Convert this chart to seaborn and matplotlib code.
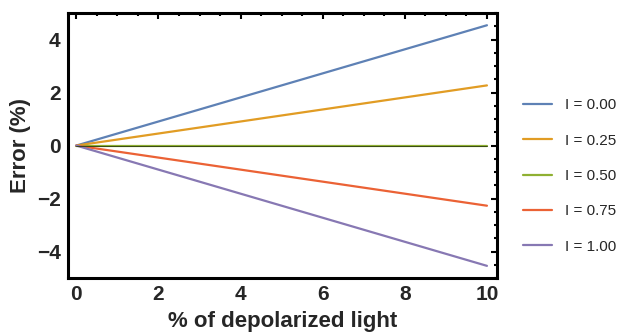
import matplotlib
matplotlib.use("Agg")
import matplotlib.pyplot as plt
from matplotlib.ticker import MultipleLocator
import pandas as pd
import seaborn as sns

depol = [0, 10]
err_000 = [0, 4.54]
err_025 = [0, 2.27]
err_050 = [0, 0.0]
err_075 = [0, -2.27]
err_100 = [0, -4.54]
labels = ['I = 0.00', 'I = 0.25', 'I = 0.50', 'I = 0.75', 'I = 1.00']
colors = ['#5E81B5', '#E19C24', '#8FB032', '#EB6235', '#8778B3']

rows = []
for lab, ys in zip(labels, [err_000, err_025, err_050, err_075, err_100]):
    for x, y in zip(depol, ys):
        rows.append({'depol': x, 'err': y, 'I': lab})
df = pd.DataFrame(rows)

sns.set_style('white')
plt.rcParams['font.family'] = ['Liberation Sans', 'DejaVu Sans']

fig, ax = plt.subplots(figsize=(6.21, 3.35), dpi=100)
fig.subplots_adjust(left=0.109, right=0.800, top=0.961, bottom=0.170)

sns.lineplot(data=df, x='depol', y='err', hue='I', palette=colors, lw=1.6, ax=ax)
# dark core on the zero line
sub = df[df['I'] == 'I = 0.50']
ax.plot(sub['depol'], sub['err'], color='#2b3a10', lw=0.6, zorder=3)

ax.set_xlim(-0.21, 10.24)
ax.set_ylim(-5, 5)
ax.xaxis.set_major_locator(MultipleLocator(2))
ax.xaxis.set_minor_locator(MultipleLocator(0.5))
ax.yaxis.set_major_locator(MultipleLocator(2))
ax.yaxis.set_minor_locator(MultipleLocator(0.5))
ax.set_yticks([-4, -2, 0, 2, 4])
ax.set_yticklabels(['\u22124', '\u22122', '0', '2', '4'])
ax.tick_params(which='both', direction='in', top=True, right=True, width=1.5, color='black')
ax.tick_params(which='major', length=4, labelsize=15, pad=5)
ax.tick_params(which='minor', length=2.5)
for t in ax.get_xticklabels() + ax.get_yticklabels():
    t.set_fontweight('bold')
for s in ax.spines.values():
    s.set_linewidth(2.2)
    s.set_color('black')

ax.set_xlabel('% of depolarized light', fontsize=16, fontweight='bold', labelpad=5)
ax.set_ylabel('Error (%)', fontsize=16, fontweight='bold', labelpad=4)

ax.legend(loc='center left', bbox_to_anchor=(1.03, 0.385), frameon=False, fontsize=11,
          handlelength=1.9, labelspacing=1.4, handletextpad=0.8)

fig.savefig('out.png', dpi=100)
